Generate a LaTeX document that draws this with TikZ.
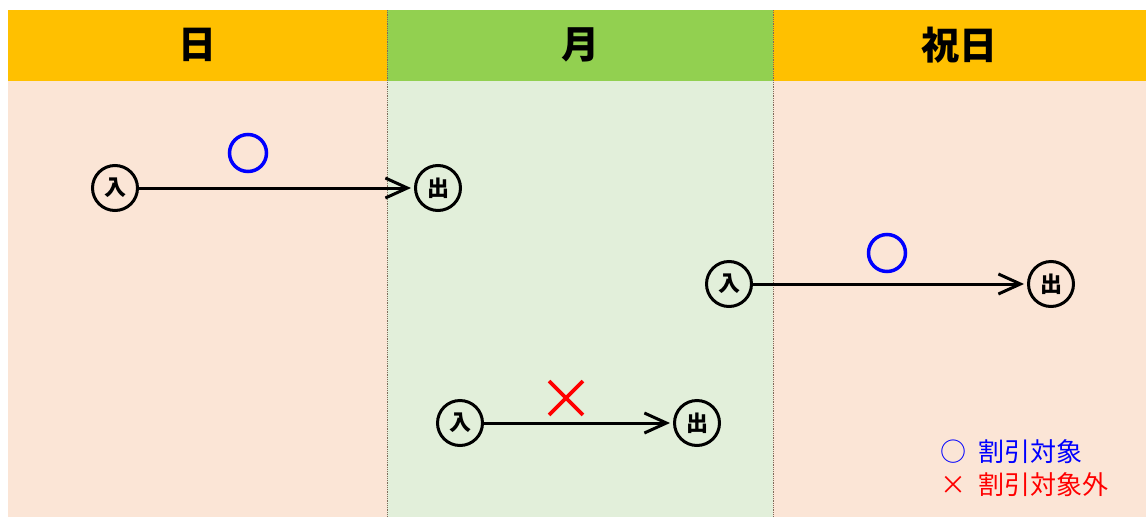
\documentclass[tikz,border=0pt]{standalone}
\usepackage{fontspec}
\setmainfont{Noto Sans CJK JP}
\usetikzlibrary{arrows.meta,shapes.misc}

\definecolor{hdorange}{HTML}{FFC000}
\definecolor{hdgreen}{HTML}{92D050}
\definecolor{bdpink}{HTML}{FBE5D6}
\definecolor{bdgreen}{HTML}{E2EFDA}
\definecolor{sepline}{HTML}{7F6A5A}

\tikzset{
  stay/.style={circle, draw, line width=3pt, minimum size=45pt, inner sep=0pt,
    font=\bfseries\fontsize{22}{22}\selectfont},
  ok mark/.style={circle, draw=blue, line width=3.5pt, minimum size=37pt, inner sep=0pt},
  ng mark/.style={cross out, draw=red, line width=3.8pt, minimum size=30pt, inner sep=0pt},
  legend/.style={anchor=west, inner sep=0pt, font=\fontsize{26}{26}\selectfont}
}

\begin{document}
\begin{tikzpicture}[x=1pt, y=-1pt, >={Straight Barb[length=22pt,width=20pt]}]
\useasboundingbox (0,0) rectangle (1146,517);

% columns
\foreach \xa/\xb/\hd/\bd/\t [count=\i] in {8/387/hdorange/bdpink/日, 387/773/hdgreen/bdgreen/月, 773/1146/hdorange/bdpink/祝日} {
  \fill [\bd] (\xa,81) rectangle (\xb,517);
  \fill [\hd] (\xa,10) rectangle (\xb,81);
  \node [font=\bfseries\fontsize{38}{38}\selectfont] (head-\i) at ({(\xa+\xb)/2},45) {\t};
}

% separators
\foreach \x in {387,773}
  \draw [sepline, densely dotted, line width=0.8pt] (\x,10) -- (\x,517);

% stays
\node [stay] (in-1) at (115,188) {入};
\node [stay] (out-1) at (438,188) {出};
\node [stay] (in-2) at (729,284) {入};
\node [stay] (out-2) at (1051,284) {出};
\node [stay] (in-3) at (460,423) {入};
\node [stay] (out-3) at (697,423) {出};

% arrows
\foreach \i in {1,2,3}
  \draw [->, line width=3pt, shorten >=3pt] (in-\i) -- (out-\i);

% marks
\node [ok mark] (mark-1) at (248,153) {};
\node [ok mark] (mark-2) at (887,253) {};
\node [ng mark] (mark-3) at (566,398) {};

% legend
\node [legend, text=blue] (key-ok) at (940,452) {○\hspace{12pt}割引対象};
\node [legend, text=red] (key-ng) at (940,485) {×\hspace{12pt}割引対象外};

\end{tikzpicture}
\end{document}
